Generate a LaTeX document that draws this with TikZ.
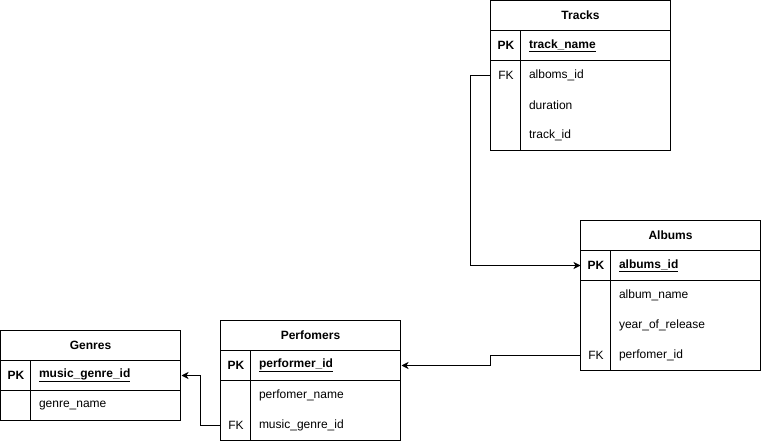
\documentclass[tikz,border=0pt]{standalone}
\usepackage{fontspec}
\setmainfont{Liberation Sans}
\usetikzlibrary{arrows.meta}

\begin{document}
\begin{tikzpicture}[x=1pt,y=-1pt,line width=1pt,
    title/.style={font=\fontsize{12}{14}\selectfont\bfseries,inner sep=0pt},
    key/.style={font=\fontsize{12}{14}\selectfont,anchor=west,minimum width=30pt,minimum height=30pt,inner sep=0pt},
    field/.style={font=\fontsize{12}{14}\selectfont,anchor=west,text width=134pt,align=left,inner xsep=8pt,inner ysep=0pt,minimum height=30pt},
    link/.style={-{Stealth[length=7pt,width=7pt,inset=2pt]},line width=1pt}]
    \useasboundingbox (-0.5,-0.5) rectangle (760.5,440.5);
    % Tracks
    \draw [-] (490,0) rectangle (670,150);
    \draw [-] (490,30) to (670,30);
    \draw [-] (490,60) to (670,60);
    \draw [-] (520,30) to (520,150);
    \node (tracks) [title] at (580,15) {Tracks};
    \node (tracks_pk) [key] at (490,45) {\bfseries PK};
    \node (track_name) [field] at (520,45) {\bfseries\underline{track\_name}};
    \node (tracks_fk) [key] at (490,75) {FK};
    \node (alboms_id) [field] at (520,75) {alboms\_id};
    \node (duration) [field] at (520,105) {duration};
    \node (track_id) [field] at (520,135) {track\_id};
    % Albums
    \draw [-] (580,220) rectangle (760,370);
    \draw [-] (580,250) to (760,250);
    \draw [-] (580,280) to (760,280);
    \draw [-] (610,250) to (610,370);
    \node (albums) [title] at (670,235) {Albums};
    \node (albums_pk) [key] at (580,265) {\bfseries PK};
    \node (albums_id) [field] at (610,265) {\bfseries\underline{albums\_id}};
    \node (album_name) [field] at (610,295) {album\_name};
    \node (year_of_release) [field] at (610,325) {year\_of\_release};
    \node (albums_fk) [key] at (580,355) {FK};
    \node (perfomer_id) [field] at (610,355) {perfomer\_id};
    % Perfomers
    \draw [-] (220,320) rectangle (400,440);
    \draw [-] (220,350) to (400,350);
    \draw [-] (220,380) to (400,380);
    \draw [-] (250,350) to (250,440);
    \node (perfomers) [title] at (310,335) {Perfomers};
    \node (perfomers_pk) [key] at (220,365) {\bfseries PK};
    \node (performer_id) [field] at (250,365) {\bfseries\underline{performer\_id}};
    \node (perfomer_name) [field] at (250,395) {perfomer\_name};
    \node (perfomers_fk) [key] at (220,425) {FK};
    \node (perf_genre_id) [field] at (250,425) {music\_genre\_id};
    % Genres
    \draw [-] (0,330) rectangle (180,420);
    \draw [-] (0,360) to (180,360);
    \draw [-] (0,390) to (180,390);
    \draw [-] (30,360) to (30,420);
    \node (genres) [title] at (90,345) {Genres};
    \node (genres_pk) [key] at (0,375) {\bfseries PK};
    \node (music_genre_id) [field] at (30,375) {\bfseries\underline{music\_genre\_id}};
    \node (genre_name) [field] at (30,405) {genre\_name};
    % links
    \draw [link] (tracks_fk.west) to ++(-20,0) |- (albums_pk.west);
    \draw [link] (albums_fk.west) to ++(-90,0) |- (performer_id.east);
    \draw [link] (perfomers_fk.west) to ++(-20,0) |- (music_genre_id.east);
\end{tikzpicture}
\end{document}
